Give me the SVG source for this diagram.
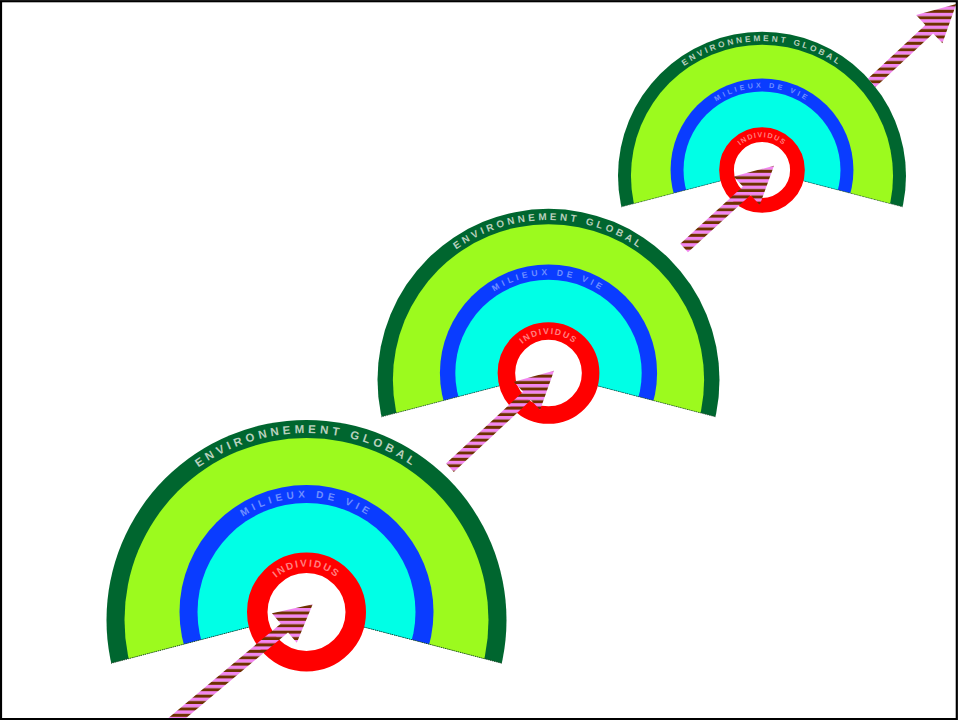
<svg xmlns="http://www.w3.org/2000/svg" xmlns:xlink="http://www.w3.org/1999/xlink" width="958" height="720" viewBox="0 0 958 720">
<style>
.dg{fill:#00662f}
.lg{fill:#9cfa1e}
.bl{fill:#0a3cff}
.cy{fill:#00ffe6}
.ring{fill:#ffffff;stroke:#ff0000;stroke-width:20.5}
.cut{fill:none;stroke:#1d3d22;stroke-width:0.9;stroke-dasharray:1.2 1}
.t{font-family:"Liberation Sans",Arial,sans-serif;font-weight:bold}
.tEnv{font-size:11.5px;letter-spacing:3.9px;fill:#b8d0bd}
.tMil{font-size:10px;letter-spacing:4.2px;fill:#6f8fff}
.tInd{font-size:10px;letter-spacing:1.8px;fill:#ff8080}
.arrow{fill:url(#stripes)}
</style>
<defs>
<pattern id="stripes" patternUnits="userSpaceOnUse" x="0" y="0" width="20" height="6.4">
<rect x="0" y="0" width="20" height="3.4" fill="#f286f0"/>
<rect x="0" y="3.4" width="20" height="3" fill="#6e3000"/>
</pattern>
<clipPath id="wedge">
<polygon points="0,0 -260,68.2 -260,-260 260,-260 260,68.2"/>
</clipPath>
<clipPath id="outsideD3">
<path clip-rule="evenodd" d="M0 0H958V720H0Z M618 175.76a144 144 0 1 0 288 0a144 144 0 1 0 -288 0Z"/>
</clipPath>
<path id="pEnv" d="M -187 8 A 187 187 0 0 1 187 8"/>
<path id="pMil" d="M -114.4 0 A 114.4 114.4 0 0 1 114.4 0"/>
<path id="pInd" d="M -45.6 0 A 45.6 45.6 0 0 1 45.6 0"/>
</defs>
<rect x="0" y="0" width="958" height="720" fill="#ffffff"/>

<g id="sphere-large" transform="translate(306.5,612)">
<g clip-path="url(#wedge)">
<circle class="dg" cx="0" cy="8" r="200"/>
<circle class="lg" cx="0" cy="8" r="182"/>
<circle class="bl" cx="0" cy="0" r="127"/>
<circle class="cy" cx="0" cy="0" r="109"/>
</g>
<polyline class="cut" points="-195.5,51.3 0,0 195.5,51.3"/>
<circle class="ring" cx="0" cy="0" r="49.25"/>
<text class="t tEnv"><textPath href="#pEnv" startOffset="50%" text-anchor="middle">ENVIRONNEMENT GLOBAL</textPath></text>
<text class="t tMil"><textPath href="#pMil" startOffset="50%" text-anchor="middle">MILIEUX DE VIE</textPath></text>
<text class="t tInd"><textPath href="#pInd" startOffset="50%" text-anchor="middle">INDIVIDUS</textPath></text>
</g>

<g id="sphere-medium" transform="translate(548.5,373) scale(0.855)">
<g clip-path="url(#wedge)">
<circle class="dg" cx="0" cy="8" r="200"/>
<circle class="lg" cx="0" cy="8" r="182"/>
<circle class="bl" cx="0" cy="0" r="127"/>
<circle class="cy" cx="0" cy="0" r="109"/>
</g>
<polyline class="cut" points="-195.5,51.3 0,0 195.5,51.3"/>
<circle class="ring" cx="0" cy="0" r="49.25"/>
<text class="t tEnv"><textPath href="#pEnv" startOffset="50%" text-anchor="middle">ENVIRONNEMENT GLOBAL</textPath></text>
<text class="t tMil"><textPath href="#pMil" startOffset="50%" text-anchor="middle">MILIEUX DE VIE</textPath></text>
<text class="t tInd"><textPath href="#pInd" startOffset="50%" text-anchor="middle">INDIVIDUS</textPath></text>
</g>

<g id="sphere-small" transform="translate(762,170) scale(0.72)">
<g clip-path="url(#wedge)">
<circle class="dg" cx="0" cy="8" r="200"/>
<circle class="lg" cx="0" cy="8" r="182"/>
<circle class="bl" cx="0" cy="0" r="127"/>
<circle class="cy" cx="0" cy="0" r="109"/>
</g>
<polyline class="cut" points="-195.5,51.3 0,0 195.5,51.3"/>
<circle class="ring" cx="0" cy="0" r="49.25"/>
<text class="t tEnv"><textPath href="#pEnv" startOffset="50%" text-anchor="middle">ENVIRONNEMENT GLOBAL</textPath></text>
<text class="t tMil"><textPath href="#pMil" startOffset="50%" text-anchor="middle">MILIEUX DE VIE</textPath></text>
<text class="t tInd"><textPath href="#pInd" startOffset="50%" text-anchor="middle">INDIVIDUS</textPath></text>
</g>

<g id="connectors">
<polygon class="arrow" points="155.83,728.53 280.69,623.72 271.95,613.31 312.7,604.3 296.77,642.87 288.03,632.46 163.17,737.27"/>
<polygon class="arrow" points="446.03,463.58 523.05,391.76 513.78,381.81 554,370.7 540.10,410.05 530.83,400.10 453.81,471.92"/>
<polygon class="arrow" points="680.27,243.86 742.87,186.50 733.68,176.47 774,165.7 759.76,204.93 750.57,194.90 687.97,252.26"/>
<polygon class="arrow" clip-path="url(#outsideD3)" points="857.33,88.49 925.35,25.06 916.08,15.11 956.3,4 942.40,43.35 933.13,33.40 865.11,96.83"/>
</g>

<rect x="1" y="1.2" width="955.8" height="717.9" fill="none" stroke="#000000" stroke-width="2.2"/>
</svg>
